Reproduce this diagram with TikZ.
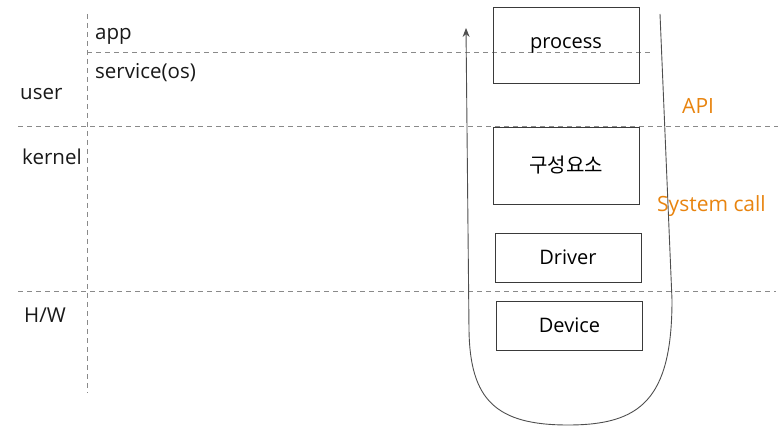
\documentclass[tikz,border=0pt]{standalone}
\usepackage{fontspec}
\setmainfont{Open Sans}
\newfontfamily\krfont{Noto Sans CJK KR}
\usetikzlibrary{arrows.meta}
\definecolor{sepgray}{HTML}{8A8A8A}
\definecolor{boxgray}{HTML}{3A3A3A}
\definecolor{apiorange}{HTML}{E8840F}
\begin{document}
\begin{tikzpicture}[x=1pt,y=-1pt,
  sep/.style={draw=sepgray, line width=1pt, dash pattern=on 5pt off 4pt},
  comp/.style={draw=boxgray, line width=0.8pt, minimum width=146pt, inner sep=0pt, font=\fontsize{20}{24}\selectfont},
  lbl/.style={anchor=west, inner sep=0pt, font=\fontsize{20.5}{24}\selectfont, text=black!90},
  orange/.style={anchor=west, inner sep=0pt, font=\fontsize{21}{24}\selectfont, text=apiorange},
  flow/.style={draw=boxgray!90, line width=0.9pt, -{Stealth[length=9pt,width=7pt]}}]
\useasboundingbox (0,0) rectangle (784,430);
% separators
\coordinate (vtop) at (87,14);
\coordinate (vbot) at (87,393);
\coordinate (s1l) at (87,53);
\coordinate (s1r) at (652,53);
\coordinate (s2l) at (18,127);
\coordinate (s2r) at (778,127);
\coordinate (s3l) at (18,291);
\coordinate (s3r) at (776,291);
\draw[sep] (vtop) -- (vbot);
\draw[sep] (s1l) -- (s1r);
\draw[sep] (s2l) -- (s2r);
\draw[sep] (s3l) -- (s3r);
% left labels
\node[lbl] (app) at (95,36) {app};
\node[lbl] (service) at (95,73) {service(os)};
\node[lbl] (user) at (20,94) {user};
\node[lbl] (kernel) at (22,157) {kernel};
\node[lbl] (hw) at (24,315) {H/W};
% boxes
\node[comp, minimum height=76pt] (process) at (566,45) {process};
\node[comp, minimum height=77pt] (comp) at (566,165.5) {\krfont 구성요소};
\node[comp, minimum height=49pt] (driver) at (568,257.5) {Driver};
\node[comp, minimum height=49pt] (device) at (569.5,325.5) {Device};
% orange labels
\node[orange] (api) at (682,106) {API};
\node[orange] (syscall) at (657,206) {System call};
% flow path
\coordinate (ftop) at (660,14);
\coordinate (fend) at (466,28);
\draw[flow] (ftop) -- (672,300) .. controls (672,400) and (640,425) .. (568,425)
  .. controls (496,425) and (470,400) .. (469,330) -- (fend);
\end{tikzpicture}
\end{document}
